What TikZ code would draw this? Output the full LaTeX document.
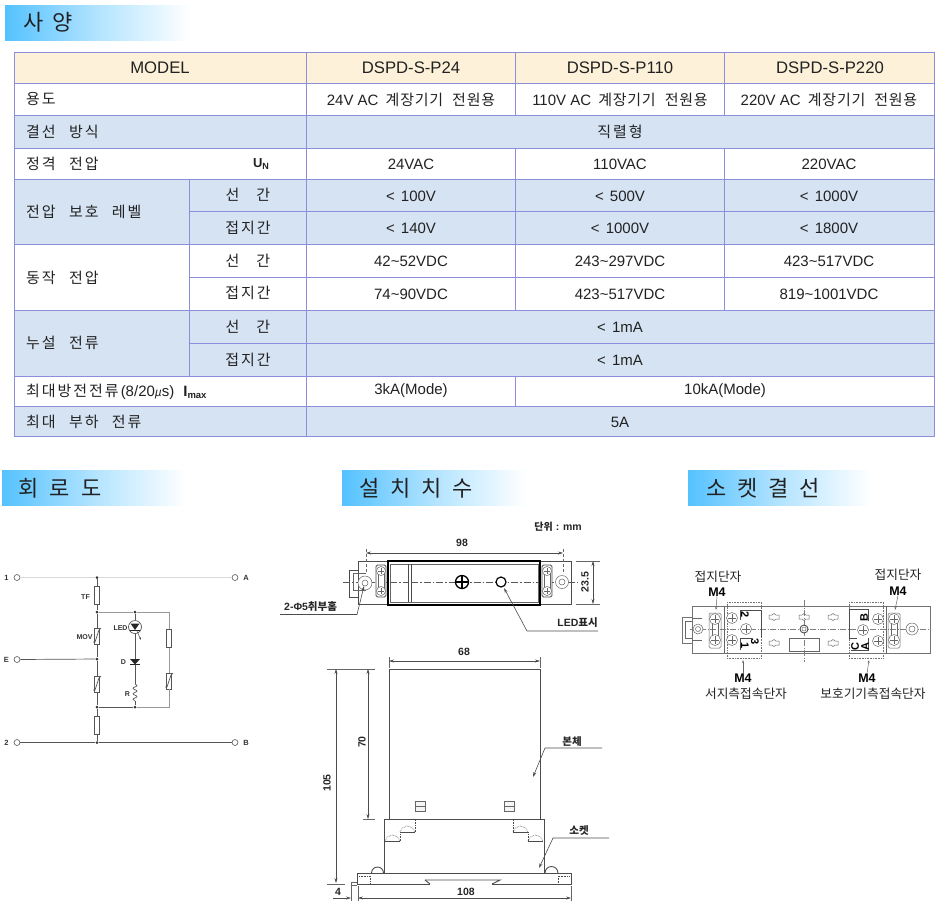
\documentclass[tikz,border=0pt]{standalone}
\usepackage{fontspec}
\usetikzlibrary{arrows.meta,decorations.pathmorphing}
\setmainfont{Liberation Sans}
\newfontfamily\kr[LetterSpace=13,WordSpace=2.5]{Noto Sans CJK KR}
\newfontfamily\krv[LetterSpace=5,WordSpace=2.2]{Noto Sans CJK KR}
\newfontfamily\krt[LetterSpace=0]{Noto Sans CJK KR}
\definecolor{grid}{HTML}{8C8EDC}
\definecolor{hdr}{HTML}{FDF2D9}
\definecolor{blu}{HTML}{D5E3F3}
\definecolor{txt}{HTML}{222222}
\definecolor{wirec}{HTML}{555555}
\definecolor{lite}{HTML}{999999}
\definecolor{ttl}{HTML}{55C2FF}
\tikzset{
  lab/.style={font=\fontsize{15}{17}\selectfont,text=txt,inner sep=0pt},
  hlab/.style={font=\fontsize{16.7}{18}\selectfont,text=txt,inner sep=0pt},
  ltxt/.style={lab,anchor=west},
  ttlbar/.style={left color=ttl,right color=white,middle color=ttl!45,shading angle=90},
  ttltxt/.style={font=\krt\fontsize{22}{24}\selectfont,text=txt,inner sep=0pt,anchor=west},
  term/.style={circle,draw=wirec,fill=white,line width=.6pt,inner sep=0pt,minimum size=6pt},
  jdot/.style={circle,fill=black!80,inner sep=0pt,minimum size=3pt},
  fusebox/.style={draw=wirec,fill=white,line width=.7pt,inner sep=0pt,minimum width=5pt,minimum height=18pt},
  varbox/.style={draw=wirec,fill=white,line width=.7pt,inner sep=0pt,minimum width=5pt,minimum height=16pt},
  wire/.style={draw=wirec,line width=.7pt},
  wirel/.style={draw=lite,line width=.7pt},
  clab/.style={font=\fontsize{7}{8}\bfseries\selectfont,text=black!80,inner sep=0pt},
  tlab/.style={font=\fontsize{7.5}{8}\bfseries\selectfont,text=black!80,inner sep=0pt},
  mech/.style={draw=black!70,line width=.9pt},
  heavy/.style={draw=black,line width=1.5pt},
  thinl/.style={draw=black!60,line width=.5pt},
  dimln/.style={draw=black!70,line width=.5pt,{Stealth[length=5pt,width=3pt]}-{Stealth[length=5pt,width=3pt]}},
  leadl/.style={draw=black!70,line width=.6pt,-{Stealth[length=5pt,width=3pt]}},
  mtxt/.style={font=\fontsize{10.5}{12}\bfseries\selectfont,text=black!85,inner sep=0pt},
  mkr/.style={font=\krt\fontsize{10.5}{12}\bfseries\selectfont,text=black!85,inner sep=0pt},
  stxt/.style={font=\krt\fontsize{12.7}{14}\selectfont,text=txt,inner sep=0pt},
  sm4/.style={font=\fontsize{12.5}{14}\bfseries\selectfont,text=black,inner sep=0pt},
  pinl/.style={font=\fontsize{11}{12}\bfseries\selectfont,text=black,inner sep=0pt,rotate=-90},
  pinr/.style={font=\fontsize{11}{12}\bfseries\selectfont,text=black,inner sep=0pt,rotate=90},
  dashb/.style={draw=black!70,line width=.6pt,densely dotted},
  cent/.style={draw=black!65,line width=.4pt,dash pattern=on 7pt off 2pt on 1.5pt off 2pt},
}
\newcommand\cellr[5]{\path[fill=#5,draw=grid,line width=.7pt] (#1,#2) rectangle (#3,#4);}
\newcommand\scr[3]{\draw[thinl,fill=white] (#1,#2) circle (#3); \draw[thinl] ({#1-#3*.7},#2) -- ({#1+#3*.7},#2) (#1,{#2-#3*.7}) -- (#1,{#2+#3*.7});}
\newcommand\varslash[2]{\draw[wire] ({#1-4},{#2+6}) -- ({#1-2},{#2+6}) -- ({#1+2},{#2-6}) -- ({#1+4},{#2-8});}
\newcommand\crosshole[2]{\draw[thinl] ({#1-5},{#2-2}) -- ({#1-2},{#2-2}) -- ({#1},{#2-3.5}) -- ({#1+2},{#2-2}) -- ({#1+5},{#2-2}) -- ({#1+5},{#2+2}) -- ({#1+2},{#2+2}) -- ({#1},{#2+3.5}) -- ({#1-2},{#2+2}) -- ({#1-5},{#2+2}) -- cycle;}
\begin{document}
\begin{tikzpicture}[x=1pt,y=-1pt]
\useasboundingbox (0,0) rectangle (949,906);
% ---------- title bars
\shade[ttlbar] (5,5) rectangle (190,40);
\node[ttltxt] (t0) at (23,22.5) {사\hspace{9pt}양};
\shade[ttlbar] (2,470) rectangle (186,505);
\node[ttltxt] (t1) at (18,488) {회\hspace{11.5pt}로\hspace{11.5pt}도};
\shade[ttlbar] (342,470) rectangle (526,505);
\node[ttltxt] (t2) at (359,488) {설\hspace{11pt}치\hspace{11pt}치\hspace{11pt}수};
\shade[ttlbar] (688,470) rectangle (871,505);
\node[ttltxt] (t3) at (706,488) {소\hspace{11pt}켓\hspace{11pt}결\hspace{11pt}선};
% ---------- table
\cellr{14}{52}{306}{83}{hdr}\cellr{306}{52}{515}{83}{hdr}\cellr{515}{52}{724}{83}{hdr}\cellr{724}{52}{934}{83}{hdr}
\cellr{14}{83}{306}{115}{white}\cellr{306}{83}{515}{115}{white}\cellr{515}{83}{724}{115}{white}\cellr{724}{83}{934}{115}{white}
\cellr{14}{115}{306}{148}{blu}\cellr{306}{115}{934}{148}{blu}
\cellr{14}{148}{306}{179}{white}\cellr{306}{148}{515}{179}{white}\cellr{515}{148}{724}{179}{white}\cellr{724}{148}{934}{179}{white}
\cellr{14}{179}{189}{244}{blu}
\cellr{189}{179}{306}{211}{blu}\cellr{306}{179}{515}{211}{blu}\cellr{515}{179}{724}{211}{blu}\cellr{724}{179}{934}{211}{blu}
\cellr{189}{211}{306}{244}{blu}\cellr{306}{211}{515}{244}{blu}\cellr{515}{211}{724}{244}{blu}\cellr{724}{211}{934}{244}{blu}
\cellr{14}{244}{189}{310}{white}
\cellr{189}{244}{306}{277}{white}\cellr{306}{244}{515}{277}{white}\cellr{515}{244}{724}{277}{white}\cellr{724}{244}{934}{277}{white}
\cellr{189}{277}{306}{310}{white}\cellr{306}{277}{515}{310}{white}\cellr{515}{277}{724}{310}{white}\cellr{724}{277}{934}{310}{white}
\cellr{14}{310}{189}{376}{blu}
\cellr{189}{310}{306}{343}{blu}\cellr{306}{310}{934}{343}{blu}
\cellr{189}{343}{306}{376}{blu}\cellr{306}{343}{934}{376}{blu}
\cellr{14}{376}{306}{406}{white}\cellr{306}{376}{515}{406}{white}\cellr{515}{376}{934}{406}{white}
\cellr{14}{406}{306}{436}{blu}\cellr{306}{406}{934}{436}{blu}
% header
\node[hlab] (h0) at (160,68) {MODEL};
\node[hlab] (h1) at (411,68) {DSPD-S-P24};
\node[hlab] (h2) at (620,68) {DSPD-S-P110};
\node[hlab] (h3) at (830,68) {DSPD-S-P220};
% left labels
\node[ltxt] (a1) at (26,99) {\kr 용도};
\node[ltxt] (a2) at (26,132) {\kr 결선 방식};
\node[ltxt] (a3) at (26,164) {\kr 정격 전압};
\node[lab,font=\fontsize{13}{15}\bfseries\selectfont] (a3u) at (261,164.5) {U\raisebox{-2pt}{\fontsize{9}{10}\selectfont N}};
\node[ltxt] (a4) at (26,212) {\kr 전압 보호 레벨};
\node[ltxt] (a5) at (26,278) {\kr 동작 전압};
\node[ltxt] (a6) at (26,343) {\kr 누설 전류};
\node[ltxt] (a7) at (26,392) {{\kr 최대방전전류}\hspace{2pt}(8/20\textit{\fontsize{12}{14}\selectfont µ}s)\hspace{9pt}\textbf{I\raisebox{-2pt}{\fontsize{9.5}{10}\selectfont max}}};
\node[ltxt] (a8) at (26,422) {\kr 최대 부하 전류};
% sub labels
\foreach \n/\yy in {b1/195,b3/260.5,b5/327}{\node[lab] (\n) at (248,\yy) {\kr 선\hspace{17pt}간};}
\foreach \n/\yy in {b2/228,b4/293,b6/360}{\node[lab] (\n) at (248,\yy) {\kr 접지간};}
% values
\node[lab] (c1) at (411,99.5) {24V AC\hspace{3pt} {\krv 계장기기 전원용}};
\node[lab] (c2) at (620,99.5) {110V AC\hspace{3pt} {\krv 계장기기 전원용}};
\node[lab] (c3) at (829,99.5) {220V AC\hspace{3pt} {\krv 계장기기 전원용}};
\node[lab] (d1) at (620,132) {\kr 직렬형};
\node[lab] (e1) at (411,164) {24VAC};
\node[lab] (e2) at (620,164) {110VAC};
\node[lab] (e3) at (829,164) {220VAC};
\node[lab] (f1) at (411,196) {<\hspace{2pt} 100V};
\node[lab] (f2) at (620,196) {<\hspace{2pt} 500V};
\node[lab] (f3) at (829,196) {<\hspace{2pt} 1000V};
\node[lab] (g1) at (411,228.5) {<\hspace{2pt} 140V};
\node[lab] (g2) at (620,228.5) {<\hspace{2pt} 1000V};
\node[lab] (g3) at (829,228.5) {<\hspace{2pt} 1800V};
\node[lab] (i1) at (411,261) {42\textasciitilde 52VDC};
\node[lab] (i2) at (620,261) {243\textasciitilde 297VDC};
\node[lab] (i3) at (829,261) {423\textasciitilde 517VDC};
\node[lab] (j1) at (411,294) {74\textasciitilde 90VDC};
\node[lab] (j2) at (620,294) {423\textasciitilde 517VDC};
\node[lab] (j3) at (829,294) {819\textasciitilde 1001VDC};
\node[lab] (k1) at (620,327) {<\hspace{2pt} 1mA};
\node[lab] (k2) at (620,360) {<\hspace{2pt} 1mA};
\node[lab] (l1) at (411,391) {3kA(Mode)};
\node[lab] (l2) at (725,391) {10kA(Mode)};
\node[lab] (m1) at (620,422) {5A};
% ---------- circuit
\node[term] (n1) at (17,577.5) {}; \node[term] (nA) at (235,577.5) {};
\node[term] (nE) at (17,659.5) {};
\node[term] (n2) at (17,742.5) {}; \node[term] (nB) at (235,742.5) {};
\node[tlab] (ln1) at (6.5,577.5) {1};
\node[tlab] (lnA) at (246,577.5) {A};
\node[tlab] (lnE) at (6.5,659.5) {E};
\node[tlab] (ln2) at (6.5,742.5) {2};
\node[tlab] (lnB) at (246,742.5) {B};
\node[jdot] (j0) at (97,577.5) {};
\node[jdot] (j1c) at (97,612) {};
\node[jdot] (jE) at (97,659) {};
\node[jdot] (j2c) at (97,707) {};
\node[jdot] (j3c) at (97,742.5) {};
\node[jdot] (j4) at (135,612) {};
\node[jdot] (j5) at (135,707) {};
\coordinate (c1r) at (169,612); \coordinate (c2r) at (169,707);
\node[fusebox] (tf) at (97,595) {};
\node[varbox] (mov1) at (97,636) {};
\node[varbox] (mov2) at (97,684) {};
\node[fusebox] (f4) at (97,725) {};
\node[fusebox] (f5) at (169,638.5) {};
\node[varbox] (mov3) at (169,681) {};
\node[circle,draw=wirec,fill=white,line width=.7pt,inner sep=0pt,minimum size=13pt] (led) at (135,627) {};
\node[inner sep=0pt,minimum width=8pt,minimum height=6pt] (dio) at (135,662) {};
\node[inner sep=0pt,minimum width=4pt,minimum height=17pt] (res) at (135,692.5) {};
\draw[draw=black!15,line width=.5pt] (n1) -- (j0) -- (nA);
\draw[wire] (j0) -- (tf) -- (j1c) -- (mov1) -- (jE) -- (mov2) -- (j2c) -- (f4) -- (j3c);
\draw[wire] (nE) -- (jE);
\draw[wire] (n2) -- (j3c) -- (nB);
\draw[wirel] (j1c) -- (j4) -- (c1r) -- (f5) -- (mov3) -- (c2r) -- (j5);
\draw[wire] (j5) -- (j2c);
\draw[wire] (j4) -- (led) -- (dio) -- (res.north);
\draw[wire] (res.south) -- (j5);
\draw[wire,decorate,decoration={snake,amplitude=2pt,segment length=5.5pt}] (res.north) -- (res.south);
\varslash{97}{636}\varslash{97}{684}\varslash{169}{681}
\fill[black!85] (130.5,623.5) -- (139.5,623.5) -- (135,630) -- cycle;
\draw[black!85,line width=.7pt] (130,630.5) -- (140,630.5);
\draw[black!70,line width=.5pt,-{Stealth[length=3pt,width=2pt]}] (137,631) -- (141,640);
\draw[black!70,line width=.5pt] (135,633.5) -- (135,635);
\fill[black!85] (130,659) -- (140,659) -- (135,664.5) -- cycle;
\draw[black!85,line width=.8pt] (130,664.8) -- (140,664.8);
\node[clab] (lTF) at (85.5,597) {TF};
\node[clab] (lMOV) at (84.5,637) {MOV};
\node[clab] (lLED) at (120.5,628) {LED};
\node[clab] (lD) at (123.5,662.5) {D};
\node[clab] (lR) at (127.5,694) {R};
% ---------- top view
\draw[mech,fill=white] (358,561) rectangle (571,604);
\draw[mech] (358,570) -- (349,570) -- (349,597) -- (358,597);
\draw[thinl] (358,573) -- (353,573) -- (353,590) -- (358,590);
\draw[thinl] (358,573) -- (366,573) (358,590) -- (366,590);
\draw[cent] (343,582) -- (578,582);
\draw[thinl,fill=white] (365,583) circle (7);
\draw[thinl] (365,583) circle (3);
\draw[thinl,fill=white] (562,582) circle (6.5);
\draw[thinl] (562,582) circle (3);
\draw[mech,fill=white,rounded corners=1.5pt] (376,565) rectangle (386,597);
\draw[thinl] (378,573) rectangle (384,590);
\scr{381}{571}{4.5}\scr{381}{591}{4.5}
\draw[mech,fill=white,rounded corners=1.5pt] (542,565) rectangle (552,597);
\draw[thinl] (544,573) rectangle (550,590);
\scr{547}{571}{4.5}\scr{547}{591}{4.5}
\draw[heavy,fill=white] (388,561) rectangle (540,605);
\draw[thinl] (390,564) rectangle (538,602);
\draw[mech] (408,564) -- (408,602) (411,564) -- (411,602);
\draw[cent] (411,582) -- (538,582) (390,582) -- (408,582);
\draw[black,line width=1.3pt,fill=white] (462,582) circle (6.5);
\draw[black,line width=1.1pt] (456,582) -- (468,582) (462,576) -- (462,588);
\draw[black,line width=1.2pt,fill=white] (501,582) circle (5);
\coordinate (e98a) at (366,553); \coordinate (e98b) at (563,553);
\draw[dimln] (e98a) -- (e98b);
\draw[thinl,densely dashed] (366,549) -- (366,572) (563,549) -- (563,572);
\node[mtxt] (t98) at (462,543) {98};
\draw[thinl] (576,561) -- (600,561) (576,604) -- (600,604);
\coordinate (e23a) at (593,561); \coordinate (e23b) at (593,604);
\draw[dimln] (e23a) -- (e23b);
\node[mtxt,rotate=90] (t235) at (585,582) {23.5};
\node[mtxt,anchor=west] (tdir) at (284,607) {2-Φ5{\krt\fontsize{10.5}{12}\bfseries\selectfont 취부홈}};
\coordinate (ldl) at (280,614.5); \coordinate (ldm) at (357,614.5); \coordinate (ldt) at (364,586);
\draw[leadl] (ldl) -- (ldm) -- (ldt);
\node[mtxt,anchor=east] (tled) at (598,623) {LED{\krt\fontsize{10.5}{12}\bfseries\selectfont 표시}};
\coordinate (lel) at (598,631); \coordinate (lem) at (527,631); \coordinate (let) at (504,588);
\draw[leadl] (lel) -- (lem) -- (let);
\node[mtxt,anchor=east] (tunit) at (582,527) {{\krt\fontsize{10}{12}\bfseries\selectfont 단위} : mm};
% ---------- side view
\draw[mech] (389,669) rectangle (540,819);
\draw[mech] (384,819) rectangle (544,873);
\draw[mech,fill=white] (371.5,873) arc (180:360:6);
\draw[mech,fill=white] (545,873) arc (180:360:6.5);
\draw[mech] (357,873) -- (571,873) -- (571,884) -- (492,884);
\draw[mech] (357,873) -- (357,884) -- (430,884);
\draw[mech] (425,880) -- (500,880) -- (492,884);
\draw[mech] (430,884) -- (425,880);
\draw[thinl] (351,885) -- (351,882) -- (357,882) (351,885) -- (357,885);
\draw[thinl,fill=black!4] (415,801) rectangle (425,811);
\draw[thinl] (415,806) -- (425,806);
\draw[thinl,fill=black!4] (504,801) rectangle (514,811);
\draw[thinl] (504,806) -- (514,806);
\draw[black!70,line width=.6pt] (385,841) -- (400,841) (400,832) -- (415,832);
\draw[dashb] (400,841) -- (400,832) (415,832) -- (415,819);
\draw[dashb] (385,841) .. controls (388,833) and (397,833) .. (400,841);
\draw[dashb] (400,832) .. controls (403,824) and (412,824) .. (415,832);
\draw[black!70,line width=.6pt] (528,841) -- (543,841) (513,832) -- (528,832);
\draw[dashb] (528,841) -- (528,832) (513,832) -- (513,819);
\draw[dashb] (528,841) .. controls (531,833) and (540,833) .. (543,841);
\draw[dashb] (513,832) .. controls (516,824) and (525,824) .. (528,832);
\draw[dashb] (359,876) -- (370,876) -- (370,883);
\draw[dashb] (558,883) -- (558,876) -- (570,876);
\draw[thinl] (389,657) -- (389,668) (540,657) -- (540,668);
\coordinate (e68a) at (389,661); \coordinate (e68b) at (540,661);
\draw[dimln] (e68a) -- (e68b);
\node[mtxt] (t68) at (464,652) {68};
\draw[thinl] (327,669) -- (375,669) (363,819) -- (375,819) (327,884) -- (345,884);
\coordinate (e105a) at (336,669); \coordinate (e105b) at (336,883);
\draw[dimln] (e105a) -- (e105b);
\node[mtxt,rotate=90] (t105) at (327,783) {105};
\coordinate (e70a) at (368,669); \coordinate (e70b) at (368,819);
\draw[dimln] (e70a) -- (e70b);
\node[mtxt,rotate=90] (t70) at (362,742) {70};
\draw[thinl] (351,886) -- (351,901) (358,886) -- (358,901) (571,886) -- (571,901);
\coordinate (e108a) at (358,898); \coordinate (e108b) at (571,898);
\draw[dimln] (e108a) -- (e108b);
\node[mtxt] (t108) at (466,892) {108};
\node[mtxt] (t4) at (338,892) {4};
\coordinate (e4a) at (333,898); \coordinate (e4b) at (351,898);
\draw[leadl] (e4a) -- (e4b);
\node[mkr] (tbody) at (572,742) {본체};
\coordinate (bl) at (602,748); \coordinate (bm) at (545,748); \coordinate (bt) at (533,777);
\draw[leadl] (bl) -- (bm) -- (bt);
\node[mkr] (tsock) at (579,831) {소켓};
\coordinate (sl) at (609,838); \coordinate (sm) at (553,838); \coordinate (st) at (539,868);
\draw[leadl] (sl) -- (sm) -- (st);
% ---------- socket wiring
\draw[mech,draw=black!55,line width=.6pt] (692,606) rectangle (930,653);
\draw[mech,draw=black!55,line width=.6pt] (692,617) -- (682,617) -- (682,643) -- (692,643);
\draw[thinl] (692,621) -- (685,621) -- (685,638) -- (692,638);
\draw[thinl] (692,618) -- (702,618) (692,640) -- (702,640);
\draw[thinl] (724,606) -- (724,653) (886,606) -- (886,653);
\draw[draw=black!50,line width=.35pt,dash pattern=on 6pt off 1.5pt on 1pt off 1.5pt] (690,629) -- (930,629) (804,600) -- (804,662);
\draw[thinl,fill=white] (698,629) circle (5);
\draw[thinl] (698,629) circle (2.5);
\draw[thinl,fill=white] (912,629) circle (6);
\draw[thinl] (912,629) circle (3);
\draw[thinl,rounded corners=1.5pt] (709,613) rectangle (721,648);
\draw[thinl] (712,622) rectangle (718,637);
\draw[thinl,rounded corners=1.5pt] (888,613) rectangle (900,648);
\draw[thinl] (891,622) rectangle (897,637);
\scr{715}{619}{5.5}\scr{715}{640}{5.5}
\scr{894}{619}{5.5}\scr{894}{640}{5.5}
\draw[dashb,line width=.4pt,draw=black!55] (727,602) rectangle (761,658);
\draw[dashb,line width=.4pt,draw=black!55] (849,602) rectangle (883,658);
\draw[black!70,line width=.7pt] (740,620) -- (740,610) -- (761,610) -- (761,637) (740,650) -- (740,638) -- (752,638);
\draw[black!70,line width=.7pt] (868,621) -- (868,609) -- (849,609) -- (849,638) -- (857,638) (868,638) -- (868,650) -- (851,650);
\scr{732}{618}{5.5}\scr{732}{640}{5.5}\scr{746}{629}{5.5}
\scr{878}{619}{5.5}\scr{878}{641}{5.5}\scr{863}{630}{5.5}
\node[pinl] (p2) at (745,615) {2};
\node[pinl] (p3) at (755,642) {3};
\node[pinl] (p1) at (745,646) {1};
\node[pinr] (pB) at (864,618) {B};
\node[pinr] (pA) at (865,647) {A};
\node[pinr] (pC) at (855,647) {C};
\draw[mech,fill=white] (804,629) circle (4);
\draw[thinl] (804,629) circle (2);
\draw[thinl] (789,638) rectangle (819,651);
\crosshole{774}{617}\crosshole{804}{617}\crosshole{833}{617}
\crosshole{774}{643}\crosshole{833}{643}
\node[stxt] (s1) at (718,577) {접지단자};
\node[stxt] (s2) at (898,575) {접지단자};
\node[sm4] (m41) at (717,592) {M4};
\node[sm4] (m42) at (898,591) {M4};
\node[sm4] (m43) at (743,678) {M4};
\node[sm4] (m44) at (867,678) {M4};
\node[stxt] (s3) at (746,694) {서지측접속단자};
\node[stxt] (s4) at (873,694) {보호기기측접속단자};
\draw[thinl,-{Stealth[length=3pt,width=2pt]}] (m41.south) -- (716,610);
\draw[thinl,-{Stealth[length=3pt,width=2pt]}] (m42.south) -- (895,610);
\draw[thinl,-{Stealth[length=3pt,width=2pt]}] (m43.north) -- (743,660);
\draw[thinl,-{Stealth[length=3pt,width=2pt]}] (m44.north) -- (869,660);
\end{tikzpicture}
\end{document}
